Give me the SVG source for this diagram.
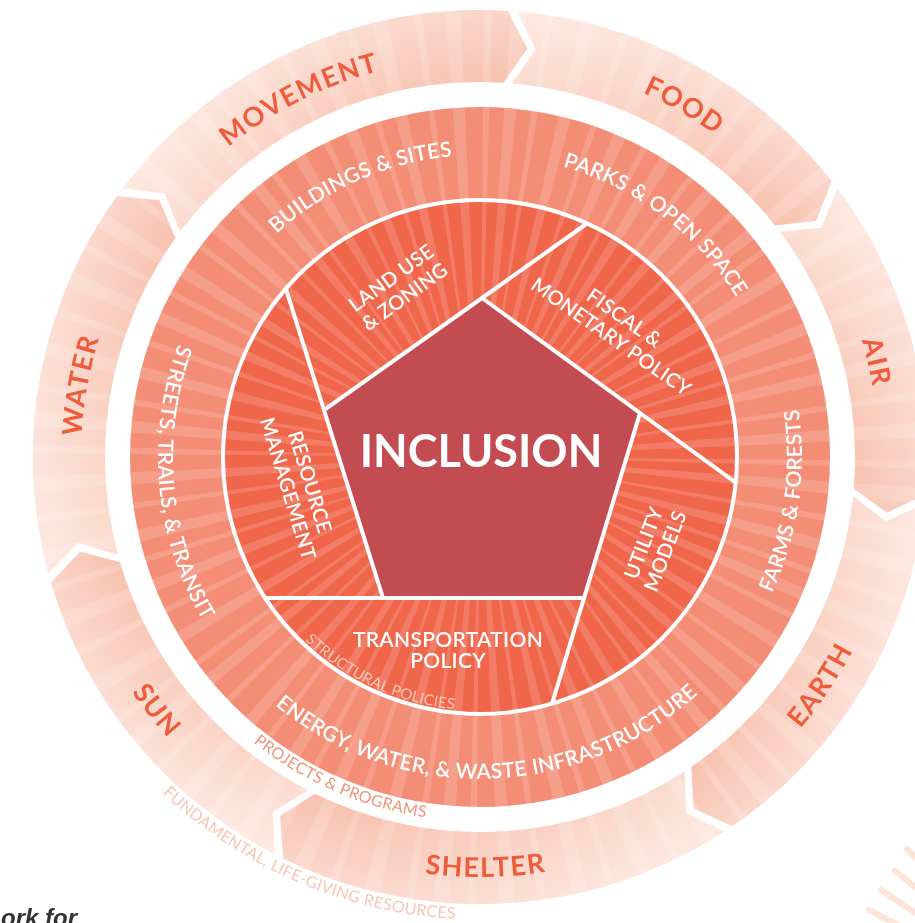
<svg xmlns="http://www.w3.org/2000/svg" width="915" height="923" viewBox="0 0 915 923">
<style>
.outer{font-family:Lato,'Open Sans',sans-serif;font-weight:700;font-size:27px;fill:#ef5c3c;letter-spacing:1.5px}
.mid{font-family:Lato,'Open Sans',sans-serif;font-weight:600;font-size:21px;fill:#ffffff;letter-spacing:0.3px}
.inner{font-family:Lato,'Open Sans',sans-serif;font-weight:600;font-size:20px;fill:#ffffff;letter-spacing:0.3px}
.small{font-family:Lato,'Open Sans',sans-serif;font-weight:400;letter-spacing:0.3px}
.line{stroke:#ffffff;stroke-width:4;fill:none;stroke-linecap:butt}
.ray{fill:#ffffff}
</style>
<defs>
<clipPath id="disk"><circle cx="480" cy="457" r="447"/></clipPath>
<radialGradient id="outerFade" gradientUnits="userSpaceOnUse" cx="480" cy="457" r="447">
<stop offset="0.838" stop-color="#ffffff" stop-opacity="0"/>
<stop offset="1" stop-color="#ffffff" stop-opacity="0.35"/>
</radialGradient>
<linearGradient id="gMovement" gradientUnits="userSpaceOnUse" x1="164.6" y1="193.5" x2="527.2" y2="48.7"><stop offset="0" stop-color="#fcdcd0"/><stop offset="1" stop-color="#f8bfac"/></linearGradient>
<linearGradient id="gFood" gradientUnits="userSpaceOnUse" x1="535.8" y1="49.8" x2="816.3" y2="220.7"><stop offset="0" stop-color="#fcdcd0"/><stop offset="1" stop-color="#f8bfac"/></linearGradient>
<linearGradient id="gAir" gradientUnits="userSpaceOnUse" x1="821.1" y1="227.8" x2="887.2" y2="512.8"><stop offset="0" stop-color="#fcdcd0"/><stop offset="1" stop-color="#f8bfac"/></linearGradient>
<linearGradient id="gEarth" gradientUnits="userSpaceOnUse" x1="885.9" y1="521.3" x2="693.5" y2="808.2"><stop offset="0" stop-color="#fcdcd0"/><stop offset="1" stop-color="#f8bfac"/></linearGradient>
<linearGradient id="gShelter" gradientUnits="userSpaceOnUse" x1="686.1" y1="812.6" x2="280.1" y2="816.1"><stop offset="0" stop-color="#fcdcd0"/><stop offset="1" stop-color="#f8bfac"/></linearGradient>
<linearGradient id="gSun" gradientUnits="userSpaceOnUse" x1="272.6" y1="811.9" x2="80.0" y2="551.6"><stop offset="0" stop-color="#fcdcd0"/><stop offset="1" stop-color="#f8bfac"/></linearGradient>
<linearGradient id="gWater" gradientUnits="userSpaceOnUse" x1="78.1" y1="543.2" x2="159.2" y2="200.0"><stop offset="0" stop-color="#fcdcd0"/><stop offset="1" stop-color="#f8bfac"/></linearGradient>
<path id="rayA" d="M480,457 L935,453 L935,461 Z"/>
<path id="rayB" d="M480,457 L935,449 L935,465 Z"/>
<path id="pMovement" d="M113.3,299.8 A399,399 0 0 1 571.1,68.5"/>
<path id="pFood" d="M412.1,63.8 A399,399 0 0 1 855.4,321.8"/>
<path id="pAir" d="M717.3,136.3 A399,399 0 0 1 837.1,635.0"/>
<path id="pWater" d="M133.8,655.3 A399,399 0 0 1 224.6,150.5"/>
<path id="pEarth" d="M597.2,860.3 A420,420 0 0 0 897.5,411.6"/>
<path id="pShelter" d="M214.6,782.5 A420,420 0 0 0 754.4,774.9"/>
<path id="pSun" d="M60.2,443.1 A420,420 0 0 0 393.4,868.0"/>
<path id="pBuildings" d="M209.0,323.7 A302,302 0 0 1 564.3,167.0"/>
<path id="pParks" d="M464.2,155.4 A302,302 0 0 1 774.3,389.1"/>
<path id="pFarms" d="M694.6,697.0 A322,322 0 0 0 753.7,287.3"/>
<path id="pEnergy" d="M164.6,521.7 A322,322 0 0 0 798.5,504.0"/>
<path id="pStreets" d="M216.2,272.3 A322,322 0 0 0 252.3,684.7"/>
<path id="pStructural" d="M250.8,565.3 A253.5,253.5 0 0 0 546.9,701.5"/>
<path id="pProjects" d="M153.8,619.6 A364.5,364.5 0 0 0 583.5,806.5"/>
<path id="pFundamental" d="M67.2,665.5 A462.5,462.5 0 0 0 613.7,899.8"/>
</defs>
<rect width="915" height="923" fill="#ffffff"/>

<g id="outer-ring">
<g id="seg-movement"><path fill="url(#gMovement)" d="M122.5,188.6 A447,447 0 0 1 508.1,10.9 L527.2,48.7 L503.5,82.7 A375,375 0 0 0 180.1,231.8 L164.6,193.5 Z"/></g>
<g id="seg-food"><path fill="url(#gFood)" d="M517.4,11.6 A447,447 0 0 1 831.7,181.1 L816.3,220.7 L775.0,225.5 A375,375 0 0 0 511.4,83.3 L535.8,49.8 Z"/></g>
<g id="seg-air"><path fill="url(#gAir)" d="M837.5,188.6 A447,447 0 0 1 925.4,494.4 L887.2,512.8 L853.7,488.4 A375,375 0 0 0 779.9,231.8 L821.1,227.8 Z"/></g>
<g id="seg-earth"><path fill="url(#gEarth)" d="M924.6,503.7 A447,447 0 0 1 731.9,826.3 L693.5,808.2 L691.3,766.8 A375,375 0 0 0 853.0,496.2 L885.9,521.3 Z"/></g>
<g id="seg-shelter"><path fill="url(#gShelter)" d="M724.1,831.5 A447,447 0 0 1 283.3,858.4 L280.1,816.1 L315.0,793.8 A375,375 0 0 0 684.8,771.2 L686.1,812.6 Z"/></g>
<g id="seg-sun"><path fill="url(#gSun)" d="M275.0,854.2 A447,447 0 0 1 51.0,582.5 L80.0,551.6 L120.1,562.3 A375,375 0 0 0 308.0,790.2 L272.6,811.9 Z"/></g>
<g id="seg-water"><path fill="url(#gWater)" d="M48.4,573.4 A447,447 0 0 1 117.0,196.2 L159.2,200.0 L175.5,238.2 A375,375 0 0 0 118.0,554.7 L78.1,543.2 Z"/></g>
</g>

<g id="middle-ring"><circle cx="480" cy="457" r="350" fill="#f48d76"/></g>
<g id="inner-ring"><circle cx="480" cy="457" r="257" fill="#f0664a"/></g>

<g id="rays" clip-path="url(#disk)" opacity="0.15" class="ray">
<use href="#rayA" transform="rotate(1 480 457)"/><use href="#rayA" transform="rotate(10 480 457)"/><use href="#rayA" transform="rotate(19 480 457)"/><use href="#rayA" transform="rotate(27 480 457)"/><use href="#rayA" transform="rotate(37 480 457)"/><use href="#rayA" transform="rotate(46 480 457)"/><use href="#rayA" transform="rotate(54 480 457)"/><use href="#rayA" transform="rotate(64 480 457)"/><use href="#rayA" transform="rotate(73 480 457)"/><use href="#rayA" transform="rotate(82 480 457)"/><use href="#rayA" transform="rotate(91 480 457)"/><use href="#rayA" transform="rotate(99 480 457)"/><use href="#rayA" transform="rotate(109 480 457)"/><use href="#rayA" transform="rotate(118 480 457)"/><use href="#rayA" transform="rotate(127 480 457)"/><use href="#rayA" transform="rotate(136 480 457)"/><use href="#rayA" transform="rotate(144 480 457)"/><use href="#rayA" transform="rotate(154 480 457)"/><use href="#rayA" transform="rotate(163 480 457)"/><use href="#rayA" transform="rotate(172 480 457)"/><use href="#rayA" transform="rotate(181 480 457)"/><use href="#rayA" transform="rotate(189 480 457)"/><use href="#rayA" transform="rotate(199 480 457)"/><use href="#rayA" transform="rotate(208 480 457)"/><use href="#rayA" transform="rotate(217 480 457)"/><use href="#rayA" transform="rotate(226 480 457)"/><use href="#rayA" transform="rotate(234 480 457)"/><use href="#rayA" transform="rotate(244 480 457)"/><use href="#rayA" transform="rotate(253 480 457)"/><use href="#rayA" transform="rotate(262 480 457)"/><use href="#rayA" transform="rotate(271 480 457)"/><use href="#rayA" transform="rotate(279 480 457)"/><use href="#rayA" transform="rotate(289 480 457)"/><use href="#rayA" transform="rotate(298 480 457)"/><use href="#rayA" transform="rotate(307 480 457)"/><use href="#rayA" transform="rotate(316 480 457)"/><use href="#rayA" transform="rotate(324 480 457)"/><use href="#rayA" transform="rotate(334 480 457)"/><use href="#rayA" transform="rotate(343 480 457)"/><use href="#rayA" transform="rotate(352 480 457)"/>
<use href="#rayB" transform="rotate(5 480 457)"/><use href="#rayB" transform="rotate(14.5 480 457)"/><use href="#rayB" transform="rotate(23 480 457)"/><use href="#rayB" transform="rotate(32 480 457)"/><use href="#rayB" transform="rotate(41.5 480 457)"/><use href="#rayB" transform="rotate(50 480 457)"/><use href="#rayB" transform="rotate(59 480 457)"/><use href="#rayB" transform="rotate(68.5 480 457)"/><use href="#rayB" transform="rotate(77 480 457)"/><use href="#rayB" transform="rotate(86.5 480 457)"/><use href="#rayB" transform="rotate(95 480 457)"/><use href="#rayB" transform="rotate(104 480 457)"/><use href="#rayB" transform="rotate(113.5 480 457)"/><use href="#rayB" transform="rotate(122 480 457)"/><use href="#rayB" transform="rotate(131 480 457)"/><use href="#rayB" transform="rotate(140.5 480 457)"/><use href="#rayB" transform="rotate(149 480 457)"/><use href="#rayB" transform="rotate(158.5 480 457)"/><use href="#rayB" transform="rotate(167 480 457)"/><use href="#rayB" transform="rotate(176.5 480 457)"/><use href="#rayB" transform="rotate(185 480 457)"/><use href="#rayB" transform="rotate(194 480 457)"/><use href="#rayB" transform="rotate(203.5 480 457)"/><use href="#rayB" transform="rotate(212 480 457)"/><use href="#rayB" transform="rotate(221 480 457)"/><use href="#rayB" transform="rotate(230.5 480 457)"/><use href="#rayB" transform="rotate(239 480 457)"/><use href="#rayB" transform="rotate(248.5 480 457)"/><use href="#rayB" transform="rotate(257 480 457)"/><use href="#rayB" transform="rotate(266.5 480 457)"/><use href="#rayB" transform="rotate(275 480 457)"/><use href="#rayB" transform="rotate(284 480 457)"/><use href="#rayB" transform="rotate(293.5 480 457)"/><use href="#rayB" transform="rotate(302 480 457)"/><use href="#rayB" transform="rotate(311 480 457)"/><use href="#rayB" transform="rotate(320.5 480 457)"/><use href="#rayB" transform="rotate(329 480 457)"/><use href="#rayB" transform="rotate(338.5 480 457)"/><use href="#rayB" transform="rotate(347 480 457)"/><use href="#rayB" transform="rotate(356.5 480 457)"/>
</g>
<circle cx="480" cy="457" r="447" fill="url(#outerFade)"/>

<g id="connectors">
<circle class="line" cx="480" cy="457" r="257"/>
<line class="line" x1="482" y1="298" x2="586.3" y2="224.0"/>
<line class="line" x1="640" y1="413" x2="735.8" y2="482.7"/>
<line class="line" x1="584" y1="598" x2="551.7" y2="704.8"/>
<line class="line" x1="383" y1="598" x2="264.5" y2="598"/>
<line class="line" x1="324" y1="410" x2="286.1" y2="289.3"/>
</g>

<g id="inclusion">
<polygon points="482,298 640,413 584,598 383,598 324,410" fill="#c34c52" stroke="#ffffff" stroke-width="4" stroke-linejoin="miter"/>
<text x="481" y="467" text-anchor="middle" style="font-family:Lato,'Open Sans',sans-serif;font-weight:700;font-size:45px;fill:#ffffff">INCLUSION</text>
</g>

<g id="outer-labels">
<text class="outer"><textPath href="#pMovement" startOffset="50%" text-anchor="middle">MOVEMENT</textPath></text>
<text class="outer"><textPath href="#pFood" startOffset="50%" text-anchor="middle">FOOD</textPath></text>
<text class="outer"><textPath href="#pAir" startOffset="50%" text-anchor="middle">AIR</textPath></text>
<text class="outer"><textPath href="#pWater" startOffset="50%" text-anchor="middle">WATER</textPath></text>
<text class="outer"><textPath href="#pEarth" startOffset="50%" text-anchor="middle">EARTH</textPath></text>
<text class="outer"><textPath href="#pShelter" startOffset="50%" text-anchor="middle">SHELTER</textPath></text>
<text class="outer"><textPath href="#pSun" startOffset="50%" text-anchor="middle">SUN</textPath></text>
</g>

<g id="middle-labels">
<text class="mid"><textPath href="#pBuildings" startOffset="50%" text-anchor="middle">BUILDINGS &amp; SITES</textPath></text>
<text class="mid"><textPath href="#pParks" startOffset="50%" text-anchor="middle">PARKS &amp; OPEN SPACE</textPath></text>
<text class="mid"><textPath href="#pFarms" startOffset="50%" text-anchor="middle">FARMS &amp; FORESTS</textPath></text>
<text class="mid"><textPath href="#pEnergy" startOffset="50%" text-anchor="middle">ENERGY, WATER, &amp; WASTE INFRASTRUCTURE</textPath></text>
<text class="mid"><textPath href="#pStreets" startOffset="50%" text-anchor="middle">STREETS, TRAILS, &amp; TRANSIT</textPath></text>
</g>

<g id="inner-labels">
<g id="land-use"><text class="inner" text-anchor="middle" transform="translate(398,287.3) rotate(-36)"><tspan x="0" y="-4.5">LAND USE</tspan><tspan x="0" y="18.5">&amp; ZONING</tspan></text></g>
<g id="fiscal"><text class="inner" text-anchor="middle" transform="translate(617.8,327.3) rotate(35)"><tspan x="0" y="-4.5">FISCAL &amp;</tspan><tspan x="0" y="18.5">MONETARY POLICY</tspan></text></g>
<g id="resource"><text class="inner" text-anchor="middle" transform="translate(299,485.3) rotate(73)"><tspan x="0" y="-4.5">RESOURCE</tspan><tspan x="0" y="18.5">MANAGEMENT</tspan></text></g>
<g id="utility"><text class="inner" text-anchor="middle" transform="translate(654.5,547) rotate(-69)"><tspan x="0" y="-4.5">UTILITY</tspan><tspan x="0" y="18.5">MODELS</tspan></text></g>
<g id="transportation"><text class="inner" text-anchor="middle" style="font-size:21px"><tspan x="448" y="647">TRANSPORTATION</tspan><tspan x="448" y="668">POLICY</tspan></text></g>
</g>

<g id="tier-labels">
<text class="small" style="font-size:15px;fill:#fbc9b8"><textPath href="#pStructural" startOffset="50%" text-anchor="middle">STRUCTURAL POLICIES</textPath></text>
<text class="small" style="font-size:16px;fill:#f3917a"><textPath href="#pProjects" startOffset="50%" text-anchor="middle">PROJECTS &amp; PROGRAMS</textPath></text>
<text class="small" style="font-size:16px;fill:#f9c4b3"><textPath href="#pFundamental" startOffset="50%" text-anchor="middle">FUNDAMENTAL, LIFE-GIVING RESOURCES</textPath></text>
</g>

<g id="corner-rays" stroke="#fde3d8" stroke-width="6" stroke-linecap="round" fill="none">
<line x1="907" y1="849" x2="920" y2="862"/>
<line x1="895" y1="871" x2="920" y2="891"/>
<line x1="881" y1="890" x2="920" y2="916"/>
<line x1="869" y1="910" x2="900" y2="926"/>
</g>

<text x="1" y="926" style="font-family:'Liberation Sans',Arial,sans-serif;font-weight:700;font-style:italic;font-size:24px;fill:#333333">ork for</text>
</svg>
